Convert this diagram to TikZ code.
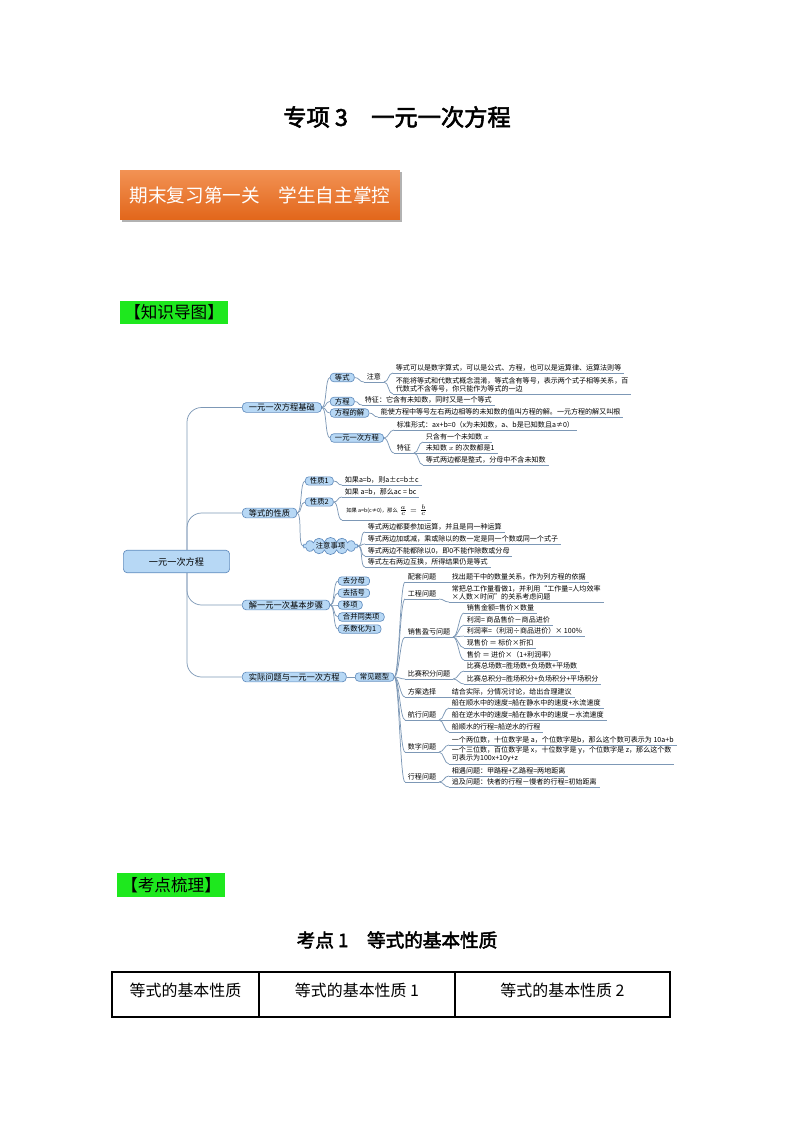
\documentclass[tikz,border=0pt]{standalone}
\usepackage{fontspec}
\setmainfont{Noto Sans CJK SC}[AutoFakeBold=2.5]
\usepackage{amsmath}
\usetikzlibrary{positioning,shapes.symbols,shadows}
\definecolor{bxfill}{RGB}{183,216,245}
\definecolor{bxdraw}{RGB}{98,141,190}
\definecolor{lnk}{RGB}{125,152,182}
\definecolor{orgtop}{RGB}{242,146,84}
\definecolor{orgbot}{RGB}{226,102,26}
\definecolor{grn}{RGB}{30,232,30}
\tikzset{
  px/.style={x=0.26446mm,y=-0.26446mm},
  root/.style={draw=bxdraw,fill=bxfill,rounded corners=3pt,minimum width=80pt,
    minimum height=17pt,font=\fontsize{6.9}{8}\selectfont,line width=0.5pt},
  br/.style={draw=bxdraw,fill=bxfill,rounded corners=3pt,inner xsep=5pt,inner ysep=0.8pt,
    font=\fontsize{6.2}{7}\selectfont,anchor=west,line width=0.5pt},
  sub/.style={draw=bxdraw,fill=bxfill,rounded corners=2.5pt,inner xsep=3.5pt,inner ysep=0.6pt,
    font=\fontsize{5.5}{6}\selectfont,anchor=west,line width=0.5pt},
  cld/.style={cloud,cloud puffs=14,aspect=4,draw=bxdraw,fill=bxfill,inner sep=0pt,
    minimum width=41pt,minimum height=10.5pt,font=\fontsize{5.5}{6}\selectfont,line width=0.5pt},
  lf/.style={font=\fontsize{5.3}{6.3}\selectfont,inner xsep=2pt,inner ysep=1.2pt,
    anchor=south west,align=left},
  lk/.style={draw=lnk,line width=0.55pt,
    to path={.. controls +(5,0) and +(-5,0) .. (\tikztotarget)}},   % curved mind-map link
  ul/.style={draw=lnk,line width=0.55pt},                              % underline of a leaf
  tag/.style={fill=grn,inner xsep=3pt,inner ysep=3pt,font=\fontsize{12.5}{14}\selectfont,anchor=west},
  obox/.style={minimum width=74mm,minimum height=13.2mm,top color=orgtop,bottom color=orgbot,
    text=white,font=\fontsize{14}{16}\selectfont,
    drop shadow={shadow xshift=1.2pt,shadow yshift=-1.8pt,fill=black!60}},
  cell/.style={font=\fontsize{12}{14}\selectfont},
}
\begin{document}
\begin{tikzpicture}[px]
  \useasboundingbox (0,0) rectangle (794,1123);
  % headings
  \node[font=\fontsize{17.5}{20}\selectfont\bfseries] (title) at (397,117) {专项 3　一元一次方程};
  \node[obox] (ob) at (260,195) {期末复习第一关　学生自主掌控};
  \node[tag] (t1) at (120,312.5) {【知识导图】};
  % root and first level
  \node[root] (root) at (176.5,561.5) {一元一次方程};
  \node[br] (b1) at (242,407.5) {一元一次方程基础};
  \node[br] (b2) at (242,513) {等式的性质};
  \node[br] (b3) at (242,605) {解一元一次基本步骤};
  \node[br] (b4) at (242,677) {实际问题与一元一次方程};
  \coordinate (tr) at (187,0);
  \draw[ul,rounded corners=11pt] (root.north -| tr) |- (b1.west);
  \draw[ul,rounded corners=11pt] (root.north -| tr) |- (b2.west);
  \draw[ul,rounded corners=11pt] (root.south -| tr) |- (b3.west);
  \draw[ul,rounded corners=11pt] (root.south -| tr) |- (b4.west);
  % branch 1
  \node[sub] (ds) at (330,377.5) {等式};
  \node[sub] (fc) at (330,401.5) {方程};
  \node[sub] (fj) at (330,413) {方程的解};
  \node[sub] (yc) at (330,438) {一元一次方程};
  \node[lf] (zy) at (364,382) {注意};
  \node[lf] (zy1) at (393,373) {等式可以是数字算式，可以是公式、方程，也可以是运算律、运算法则等};
  \node[lf] (zy2) at (393,394) {不能将等式和代数式概念混淆，等式含有等号，表示两个式子相等关系，百\\代数式不含等号，你只能作为等式的一边};
  \node[lf] (fc1) at (362,405) {特征：它含有未知数，同时又是一个等式};
  \node[lf] (fj1) at (378,417) {能使方程中等号左右两边相等的未知数的值叫方程的解。一元方程的解又叫根};
  \node[lf] (bz) at (394,430) {标准形式：ax+b=0（x为未知数，a、b是已知数且a≠0）};
  \node[lf] (tz) at (394,453) {特征};
  \node[lf] (tz1) at (423,442) {只含有一个未知数 $x$};
  \node[lf] (tz2) at (423,453) {未知数 $x$ 的次数都是1};
  \node[lf] (tz3) at (423,465) {等式两边都是整式，分母中不含未知数};
  % branch 2
  \node[sub] (p1) at (305,481) {性质1};
  \node[sub] (p2) at (305,502) {性质2};
  \node[cld] (zs) at (330.5,546) {注意事项};
  \node[lf] (p1t) at (342,485) {如果a=b，则a±c=b±c};
  \node[lf] (p2a) at (342,497) {如果 a=b，那么ac = bc};
  \node[lf,font=\fontsize{4}{5}\selectfont,inner ysep=3pt,inner xsep=3pt] (p2b) at (342,520)
    {如果 a=b(c≠0)，那么 $\frac{a}{c}=\frac{b}{c}$};
  \node[lf] (zs1) at (365,532) {等式两边都要参加运算，并且是同一种运算};
  \node[lf] (zs2) at (365,544) {等式两边加或减，乘或除以的数一定是同一个数或同一个式子};
  \node[lf] (zs3) at (365,556) {等式两边不能都除以0，即0不能作除数或分母};
  \node[lf] (zs4) at (365,567) {等式左右两边互换，所得结果仍是等式};
  % branch 3
  \foreach \t [count=\i] in {去分母,去括号,移项,合并同类项,系数化为1}
    \node[sub] (s\i) at (338,{569+12*\i}) {\t};
  % branch 4
  \node[sub] (cj) at (355,677) {常见题型};
  \node[lf] (pt) at (405,582) {配套问题};
  \node[lf] (pt1) at (449,582) {找出题干中的数量关系，作为列方程的依据};
  \node[lf] (gc) at (405,599) {工程问题};
  \node[lf] (gc1) at (449,602) {常把总工作量看做1，并利用“工作量=人均效率\\×人数×时间”的关系考虑问题};
  \node[lf] (xs) at (405,637) {销售盈亏问题};
  \node[lf] (xs1) at (464,613) {销售金额=售价×数量};
  \node[lf] (xs2) at (464,625) {利润= 商品售价－商品进价};
  \node[lf] (xs3) at (464,636) {利润率=（利润÷商品进价）× 100\%};
  \node[lf] (xs4) at (464,648) {现售价 ＝ 标价×折扣};
  \node[lf] (xs5) at (464,660) {售价 ＝ 进价×（1+利润率）};
  \node[lf] (bs) at (405,679) {比赛积分问题};
  \node[lf] (bs1) at (464,671) {比赛总场数=胜场数+负场数+平场数};
  \node[lf] (bs2) at (464,684) {比赛总积分=胜场积分+负场积分+平场积分};
  \node[lf] (fa) at (405,697) {方案选择};
  \node[lf] (fa1) at (449,697) {结合实际，分情况讨论，给出合理建议};
  \node[lf] (hx) at (405,720) {航行问题};
  \node[lf] (hx1) at (449,708) {船在顺水中的速度=船在静水中的速度+水流速度};
  \node[lf] (hx2) at (449,720) {船在逆水中的速度=船在静水中的速度－水流速度};
  \node[lf] (hx3) at (449,732) {船顺水的行程=船逆水的行程};
  \node[lf] (sz) at (405,752) {数字问题};
  \node[lf] (sz1) at (449,745) {一个两位数，十位数字是 a，个位数字是b，那么这个数可表示为 10a+b};
  \node[lf] (sz2) at (449,764) {一个三位数，百位数字是 x，十位数字是 y，个位数字是 z，那么这个数\\可表示为100x+10y+z};
  \node[lf] (xc) at (405,782) {行程问题};
  \node[lf] (xc1) at (449,776) {相遇问题：甲路程+乙路程=两地距离};
  \node[lf] (xc2) at (449,787) {追及问题：快者的行程－慢者的行程=初始距离};
  % underlines
  \foreach \n in {zy,zy1,zy2,fc1,fj1,bz,tz,tz1,tz2,tz3,p1t,p2a,p2b,zs1,zs2,zs3,zs4,
      pt,pt1,gc,gc1,xs,xs1,xs2,xs3,xs4,xs5,bs,bs1,bs2,fa,fa1,hx,hx1,hx2,hx3,sz,sz1,sz2,xc,xc1,xc2}
    \draw[ul] (\n.south west) -- (\n.south east);
  % links
  \foreach \a/\b in {b1.east/ds.west,b1.east/fc.west,b1.east/fj.west,b1.east/yc.west,
      ds.east/zy.south west,zy.south east/zy1.south west,zy.south east/zy2.south west,
      fc.east/fc1.south west,fj.east/fj1.south west,yc.east/bz.south west,yc.east/tz.south west,
      tz.south east/tz1.south west,tz.south east/tz2.south west,tz.south east/tz3.south west,
      b2.east/p1.west,b2.east/p2.west,b2.east/zs.west,p1.east/p1t.south west,
      p2.east/p2a.south west,p2.east/p2b.south west,
      zs.east/zs1.south west,zs.east/zs2.south west,zs.east/zs3.south west,zs.east/zs4.south west,
      b4.east/cj.west}
    \draw[lk] (\a) to (\b);
  \foreach \i in {1,...,5}
    \draw[lk] (b3.east) to (s\i.west);
  \foreach \c in {pt,gc,xs,bs,fa,hx,sz,xc}
    \draw[lk] (cj.east) to (\c.south west);
  \foreach \a/\b in {pt/pt1,gc/gc1,xs/xs1,xs/xs2,xs/xs3,xs/xs4,xs/xs5,bs/bs1,bs/bs2,
      fa/fa1,hx/hx1,hx/hx2,hx/hx3,sz/sz1,sz/sz2,xc/xc1,xc/xc2}
    \draw[lk] (\a.south east) to (\b.south west);
  % second part
  \node[tag] (t2) at (117,885) {【考点梳理】};
  \node[font=\fontsize{14}{16}\selectfont\bfseries] (kd) at (397,940) {考点 1　等式的基本性质};
  \draw[line width=0.8pt] (112,972) rectangle (670,1017);
  \draw[line width=0.8pt] (259,972) -- (259,1017);
  \draw[line width=0.8pt] (455,972) -- (455,1017);
  \node[cell] (c1) at (185.5,990) {等式的基本性质};
  \node[cell] (c2) at (357,990) {等式的基本性质 1};
  \node[cell] (c3) at (562.5,990) {等式的基本性质 2};
\end{tikzpicture}
\end{document}
